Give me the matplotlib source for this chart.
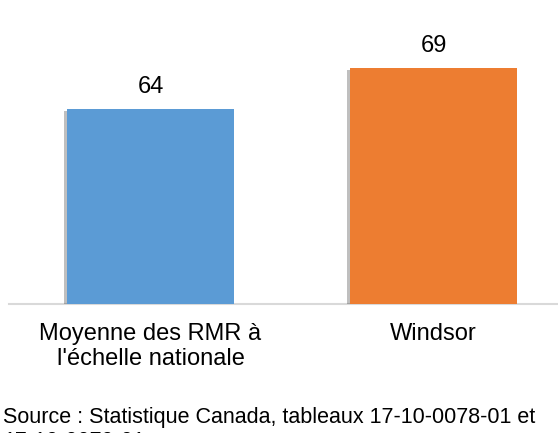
import matplotlib
matplotlib.use("Agg")
import matplotlib.pyplot as plt
import matplotlib.patheffects as pe

plt.rcParams["font.family"] = ["Liberation Sans", "DejaVu Sans"]

categories = ["Moyenne des RMR à\nl'échelle nationale", "Windsor"]
values = [64, 69]
colors = ["#5b9bd5", "#ed7d31"]
source = "Source : Statistique Canada, tableaux 17-10-0078-01 et\n17-10-0079-01"

W, H = 558, 433
fig = plt.figure(figsize=(W / 100, H / 100), dpi=100)
# axes slightly wider than the canvas, as in the cropped original
ax = fig.add_axes([9 / W, (H - 304) / H, 566 / W, 244 / H])

x = list(range(len(values)))
bars = ax.bar(x, values, width=0.59, color=colors, zorder=3)
for b in bars:
    b.set_path_effects([pe.SimplePatchShadow(offset=(-2.5, -1.5), shadow_rgbFace="black", alpha=0.25),
                        pe.Normal()])

for xi, v in zip(x, values):
    ax.annotate(f"{v}", (xi, v), xytext=(0, 11.5), textcoords="offset points",
                ha="center", va="baseline", fontsize=17, color="black")

ax.set_xlim(-0.5, 1.5)
ax.set_ylim(40, 70)
ax.set_yticks([])
ax.set_xticks(x, categories, fontsize=17, linespacing=1.15)
ax.tick_params(axis="x", length=0, pad=14)
for s in ["top", "right", "left"]:
    ax.spines[s].set_visible(False)
ax.spines["bottom"].set_color("#d9d9d9")
ax.spines["bottom"].set_linewidth(1.5)

# second line of the source runs off the bottom edge, as in the original
fig.text(3 / W, 1 - 407 / H, source, ha="left", va="top", fontsize=15.5, linespacing=1.18)

fig.savefig("out.png", dpi=100)
